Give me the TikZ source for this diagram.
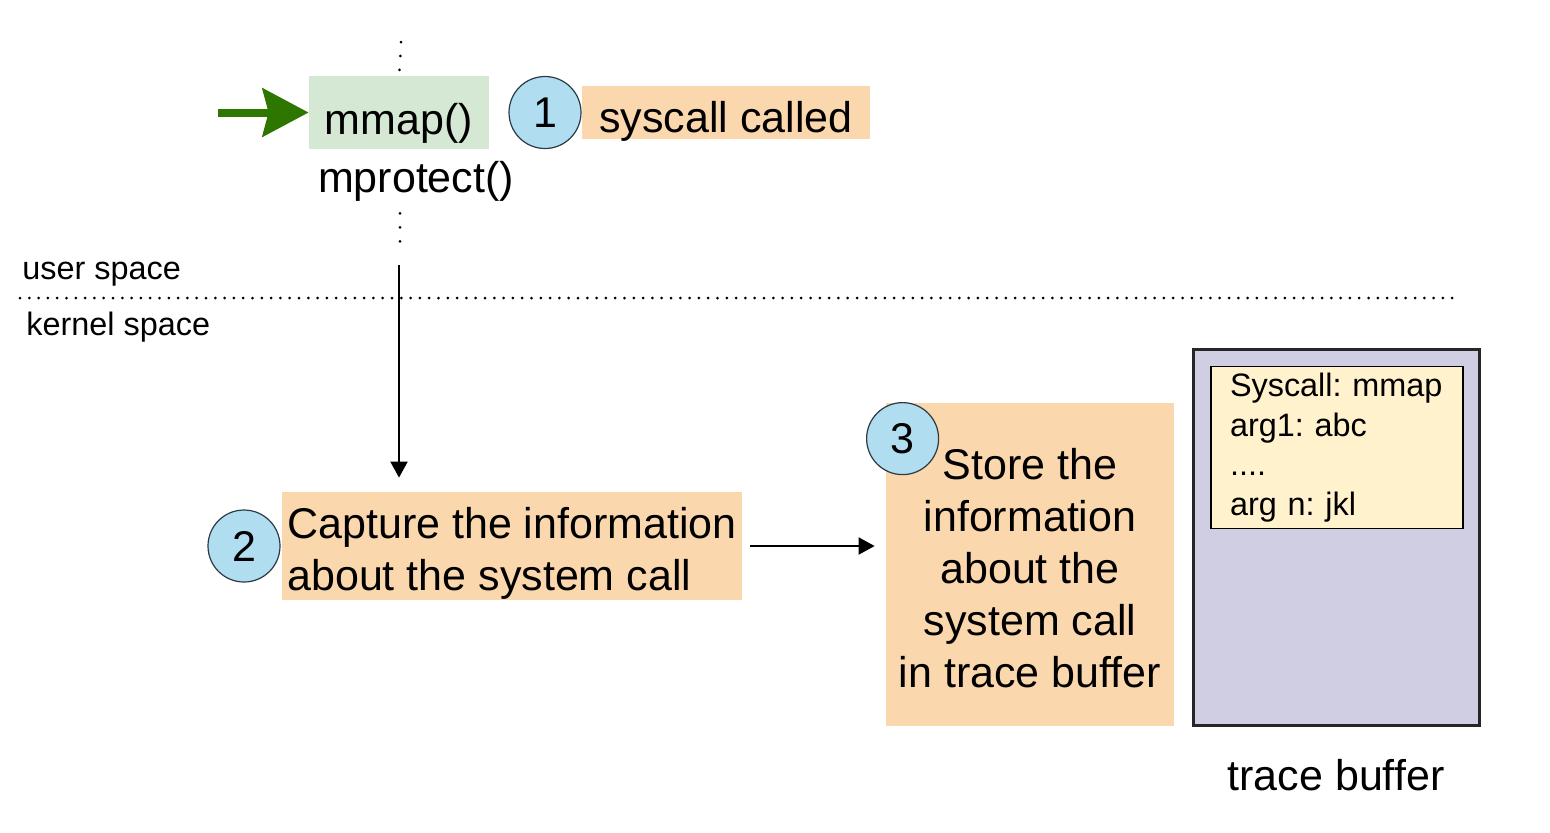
\documentclass[tikz,border=0pt]{standalone}
\usepackage{fontspec}
\setmainfont{Liberation Sans}
\usetikzlibrary{arrows.meta,positioning}

\definecolor{boxorange}{HTML}{FAD7AC}
\definecolor{boxgreen}{HTML}{D5E8D4}
\definecolor{circleblue}{HTML}{B1DDF0}
\definecolor{circleline}{HTML}{2B3A44}
\definecolor{arrowgreen}{HTML}{2D7600}
\definecolor{bufferpurple}{HTML}{D0CEE2}
\definecolor{entryyellow}{HTML}{FFF2CC}

\begin{document}
\frenchspacing
\begin{tikzpicture}[x=0.5pt,y=-0.5pt,
    bigtext/.style={font=\fontsize{21.5}{26}\selectfont},
    smalltext/.style={font=\fontsize{16.2}{19.75}\selectfont},
    stepbox/.style={fill=boxorange, inner sep=0pt, bigtext},
    numcircle/.style={circle, draw=circleline, line width=0.6pt, fill=circleblue, minimum size=36pt, inner sep=0pt, bigtext},
    flow/.style={-{Triangle[length=8pt,width=8.5pt]}, line width=1pt},
    dotline/.style={line width=1.5pt, line cap=round, dash pattern=on 0pt off #1}]
        \useasboundingbox (0,0) rectangle (1550,832);

        % Chiamata di sistema in user space
        \node[fill=boxgreen, minimum width=90pt, minimum height=36.5pt, inner sep=0pt, text height=22pt, text depth=0pt, bigtext] (mmap) at (399,112.5) {mmap()};
        \node[bigtext, inner sep=0pt] (mprotect) at (416,181) {mprotect()};
        \node[numcircle, right=9.5pt of mmap] (one) {1};
        \node[stepbox, minimum width=144pt, minimum height=26.5pt, text height=19.5pt, text depth=0pt, right=0pt of one] (called) {syscall called};
        \coordinate (entry) at (218,112.5);
        \draw[-{Stealth[length=23pt,width=24pt,inset=3pt]}, line width=4pt, arrowgreen] (entry) -- (mmap.west);

        % Puntini sopra e sotto
        \coordinate (top) at (401,42);
        \coordinate (low) at (400,243);
        \draw[dotline=7pt] (top) -- ([yshift=-2pt]mmap.north);
        \draw[dotline=7pt] ([yshift=-6pt]mprotect.south -| low) -- (low);

        % Separazione user / kernel
        \coordinate (sepL) at (20,298);
        \coordinate (sepR) at (1455,298);
        \draw[dotline=4.65pt] (sepL) -- (sepR);
        \node[smalltext, anchor=west, inner sep=0pt] (user) at (22,274) {user space};
        \node[smalltext, anchor=west, inner sep=0pt] (kernel) at (26,327) {kernel space};

        % Passi nel kernel
        \node[stepbox, minimum width=230pt, minimum height=54pt, align=left] (capture) at (512,546) {\rule{0pt}{23pt}Capture the information\\about the system call};
        \node[numcircle, left=0.5pt of capture] (two) {2};
        \node[stepbox, minimum width=144pt, minimum height=161.5pt, align=center] (store) at (1030,564.5) {\rule{0pt}{19pt}Store the\\information\\about the\\system call\\in trace buffer};
        \node[numcircle] (three) at ([xshift=8.5pt,yshift=-18pt]store.north west) {3};

        % Frecce
        \coordinate (cross) at (399,265);
        \draw[flow, shorten >=7pt] (cross) -- (cross |- capture.north);
        \draw[flow, shorten <=4pt, shorten >=5.5pt] (capture.east) -- (capture.east -| store.west);

        % Trace buffer
        \node[draw=black!85, line width=1.5pt, fill=bufferpurple, minimum width=143pt, minimum height=188pt] (buffer) at (1336.5,537.5) {};
        \node[draw=black, line width=0.8pt, fill=entryyellow, minimum width=126pt, minimum height=80.5pt, inner xsep=9.5pt, text width=107pt, align=left, smalltext] (record) at (1337,447.5) {Syscall: mmap\\arg1: abc\\....\\arg n: jkl};
        \node[bigtext, inner sep=0pt] (label) at (1336,775) {trace buffer};
\end{tikzpicture}
\end{document}
